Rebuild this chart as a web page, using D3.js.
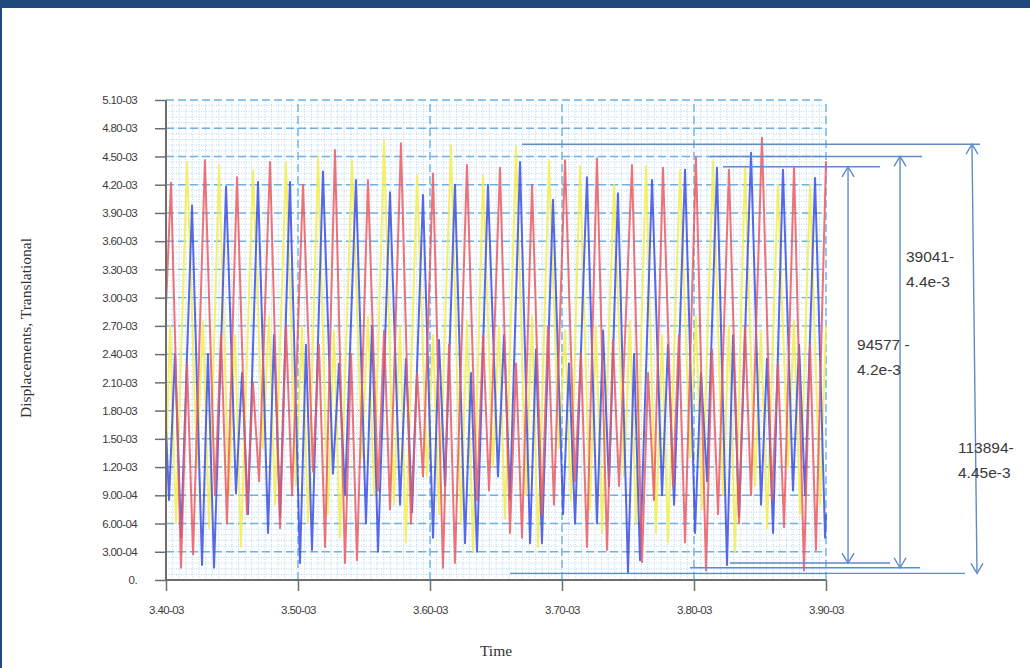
<!DOCTYPE html>
<html>
<head>
    <title>Displacements, Translational</title>
    <script src="https://cdnjs.cloudflare.com/ajax/libs/d3/7.8.5/d3.min.js"></script>
    <style>
        body { margin: 0; background: #ffffff; }
        svg { display: block; }
        .tick text { font-family: "Liberation Sans", Arial, sans-serif; font-size: 11.5px; fill: #3c3c3c; letter-spacing: -0.6px; }
        .axis-title { font-family: "Liberation Serif", "Times New Roman", serif; font-size: 15.5px; fill: #333; }
        .note { font-family: "Liberation Sans", Arial, sans-serif; font-size: 15.5px; fill: #3a3a3a; }
    </style>
</head>
<body>
    <svg width="1030" height="668"></svg>

    <script>
        // time in units of 1e-3 s, displacement in units of 1e-3
        const xTicks = [3.4, 3.5, 3.6, 3.7, 3.8, 3.9];
        const xTickLabels = ["3.40-03", "3.50-03", "3.60-03", "3.70-03", "3.80-03", "3.90-03"];
        const yTicks = [0, 0.3, 0.6, 0.9, 1.2, 1.5, 1.8, 2.1, 2.4, 2.7, 3.0, 3.3, 3.6, 3.9, 4.2, 4.5, 4.8, 5.1];
        const yTickLabels = ["0.", "3.00-04", "6.00-04", "9.00-04", "1.20-03", "1.50-03", "1.80-03", "2.10-03",
            "2.40-03", "2.70-03", "3.00-03", "3.30-03", "3.60-03", "3.90-03", "4.20-03", "4.50-03", "4.80-03", "5.10-03"];

        const yellowT = [3.4000, 3.4030, 3.4076,
            3.4159, 3.4235, 3.4280, 3.4326, 3.4402, 3.4477, 3.4523, 3.4568,
            3.4659, 3.4735, 3.4780, 3.4826, 3.4909, 3.4985, 3.5030, 3.5076,
            3.5152, 3.5227, 3.5273, 3.5318, 3.5409, 3.5485, 3.5530, 3.5576,
            3.5652, 3.5727, 3.5773, 3.5818, 3.5902, 3.5977, 3.6023, 3.6068,
            3.6159, 3.6235, 3.6280, 3.6326, 3.6402, 3.6477, 3.6523, 3.6568,
            3.6652, 3.6727, 3.6773, 3.6818, 3.6902, 3.6977, 3.7023, 3.7068,
            3.7136, 3.7212, 3.7258, 3.7303, 3.7394, 3.7470, 3.7515, 3.7561,
            3.7636, 3.7712, 3.7758, 3.7803, 3.7894, 3.7970, 3.8015, 3.8061,
            3.8144, 3.8220, 3.8265, 3.8311, 3.8386, 3.8462, 3.8508, 3.8553,
            3.8636, 3.8712, 3.8758, 3.8803, 3.8879, 3.8955, 3.9000];
        const yellowV = [1.20, 2.70, 0.60,
            4.44, 1.20, 2.75, 0.55, 4.41, 0.90, 2.60, 0.35,
            4.35, 1.40, 2.80, 0.80, 4.44, 1.00, 2.70, 0.60,
            4.50, 0.70, 2.65, 0.45, 4.46, 1.30, 2.80, 0.90,
            4.67, 0.80, 2.70, 0.40, 4.30, 1.10, 2.60, 0.70,
            4.62, 0.60, 2.75, 0.30, 4.30, 1.20, 2.70, 0.65,
            4.60, 0.90, 2.80, 0.35, 4.45, 1.40, 2.65, 0.85,
            4.40, 0.75, 2.70, 0.50, 4.20, 1.10, 2.75, 0.60,
            4.40, 0.50, 2.60, 0.40, 4.35, 1.30, 2.80, 0.75,
            4.45, 0.90, 2.70, 0.30, 4.40, 1.00, 2.65, 0.55,
            4.20, 1.20, 2.75, 0.70, 4.20, 0.80, 2.70];

        const blueT = [3.4000, 3.4023, 3.4068, 3.4114,
            3.4197, 3.4273, 3.4318, 3.4364, 3.4455, 3.4530, 3.4576, 3.4621,
            3.4697, 3.4773, 3.4818, 3.4864, 3.4939, 3.5015, 3.5061, 3.5106,
            3.5189, 3.5265, 3.5311, 3.5356, 3.5439, 3.5515, 3.5561, 3.5606,
            3.5697, 3.5773, 3.5818, 3.5864, 3.5947, 3.6023, 3.6068, 3.6114,
            3.6189, 3.6265, 3.6311, 3.6356, 3.6439, 3.6515, 3.6561, 3.6606,
            3.6682, 3.6758, 3.6803, 3.6848, 3.6932, 3.7008, 3.7053, 3.7099,
            3.7189, 3.7265, 3.7311, 3.7356, 3.7424, 3.7500, 3.7546, 3.7591,
            3.7682, 3.7758, 3.7803, 3.7849, 3.7932, 3.8008, 3.8053, 3.8099,
            3.8174, 3.8250, 3.8296, 3.8341, 3.8432, 3.8508, 3.8553, 3.8599,
            3.8674, 3.8750, 3.8796, 3.8841, 3.8917, 3.8993, 3.9000];
        const blueV = [1.60, 0.85, 2.40, 0.45,
            3.98, 0.16, 2.40, 0.13, 4.18, 0.92, 2.20, 0.70,
            4.23, 0.50, 2.60, 0.67, 4.23, 0.18, 2.50, 0.32,
            4.34, 1.13, 2.30, 0.90, 4.25, 0.60, 2.70, 0.30,
            4.12, 0.80, 2.35, 0.72, 4.09, 0.45, 2.55, 1.00,
            4.20, 0.39, 2.20, 0.30, 4.20, 1.10, 2.60, 0.85,
            4.44, 0.39, 2.45, 0.39, 4.04, 0.70, 2.30, 0.60,
            4.28, 0.60, 2.65, 1.00, 4.11, 0.08, 2.40, 0.21,
            4.25, 0.90, 2.50, 0.80, 4.36, 0.50, 2.20, 1.05,
            4.38, 0.16, 2.60, 0.67, 4.54, 0.80, 2.35, 0.50,
            4.36, 0.95, 2.50, 0.90, 4.27, 0.45, 0.70];

        const redT = [3.4000,
            3.4038, 3.4114, 3.4159, 3.4205, 3.4295, 3.4371, 3.4417, 3.4462,
            3.4538, 3.4614, 3.4659, 3.4705, 3.4788, 3.4864, 3.4909, 3.4955,
            3.5038, 3.5114, 3.5159, 3.5205, 3.5280, 3.5356, 3.5402, 3.5447,
            3.5530, 3.5606, 3.5652, 3.5697, 3.5780, 3.5856, 3.5902, 3.5947,
            3.6023, 3.6098, 3.6144, 3.6189, 3.6280, 3.6356, 3.6402, 3.6447,
            3.6530, 3.6606, 3.6652, 3.6697, 3.6773, 3.6848, 3.6894, 3.6939,
            3.7023, 3.7098, 3.7144, 3.7189, 3.7265, 3.7341, 3.7386, 3.7432,
            3.7530, 3.7606, 3.7652, 3.7697, 3.7765, 3.7841, 3.7886, 3.7932,
            3.8015, 3.8091, 3.8136, 3.8182, 3.8265, 3.8341, 3.8386, 3.8432,
            3.8515, 3.8591, 3.8636, 3.8682, 3.8758, 3.8833, 3.8879, 3.8924,
            3.9000];
        const redV = [2.90,
            4.22, 0.13, 2.30, 0.27, 4.46, 0.90, 2.60, 0.60,
            4.28, 0.70, 2.10, 1.05, 4.44, 0.55, 2.70, 0.90,
            4.20, 1.15, 2.50, 0.35, 4.57, 0.18, 2.40, 0.21,
            4.25, 0.95, 2.65, 0.75, 4.64, 0.60, 2.20, 1.10,
            4.32, 0.13, 2.50, 0.18, 4.41, 0.85, 2.60, 0.95,
            4.38, 0.50, 2.30, 0.45, 4.20, 0.70, 2.70, 0.80,
            4.46, 1.05, 2.40, 0.35, 4.48, 0.32, 2.55, 1.00,
            4.41, 0.19, 2.20, 0.85, 4.38, 1.00, 2.60, 0.40,
            4.49, 0.10, 2.45, 0.70, 4.36, 0.60, 2.70, 0.90,
            4.70, 0.85, 2.30, 0.56, 4.39, 0.10, 2.50, 0.32,
            4.45];

        // range annotations on the right
        const noteLines = [ // [level, from t, to t]
            [4.63, 3.6697, 4.0167], [4.50, 3.8121, 3.9727], [4.39, 3.8220, 3.9409],
            [0.18, 3.8273, 3.9485], [0.13, 3.7970, 3.9712], [0.07, 3.6606, 4.0053]];
        const noteArrows = [ // [t top, top level, t bottom, bottom level]
            [3.9167, 4.39, 3.9167, 0.18], [3.9561, 4.50, 3.9561, 0.13], [4.0106, 4.63, 4.0144, 0.07]];
        const noteTexts = [ // [t, level, first line, second line]
            [3.9606, 3.38, "39041-", "4.4e-3"],
            [3.9235, 2.44, "94577 -", "4.2e-3"],
            [4.0000, 1.35, "113894-", "4.45e-3"]];

        const svg = d3.select("svg");
        const x = d3.scaleLinear().domain([3.4, 3.9]).range([166, 826]);
        const y = d3.scaleLinear().domain([0, 5.1]).range([580, 100]);

        // frame
        svg.append("rect").attr("x", 0).attr("y", 0).attr("width", 1030).attr("height", 8).attr("fill", "#1f497d");
        svg.append("rect").attr("x", 0).attr("y", 0).attr("width", 2).attr("height", 668).attr("fill", "#1f497d");

        // fine dotted grid
        const minor = svg.append("g").attr("stroke", "#b3d8f3").attr("stroke-width", 1)
            .attr("stroke-dasharray", "1,1.5");
        d3.range(0.06, 5.1, 0.06).forEach(v => {
            minor.append("line").attr("x1", x(3.4)).attr("x2", x(3.9)).attr("y1", y(v)).attr("y2", y(v));
        });
        d3.range(3.405, 3.9, 0.005).forEach(t => {
            minor.append("line").attr("x1", x(t)).attr("x2", x(t)).attr("y1", y(0)).attr("y2", y(5.1));
        });

        // dashed major grid
        const major = svg.append("g").attr("stroke", "#6fb1e4").attr("stroke-width", 1.4)
            .attr("stroke-dasharray", "8,4");
        yTicks.slice(1).forEach(v => {
            major.append("line").attr("x1", x(3.4)).attr("x2", x(3.9)).attr("y1", y(v)).attr("y2", y(v));
        });
        xTicks.slice(1).forEach(t => {
            major.append("line").attr("x1", x(t)).attr("x2", x(t)).attr("y1", y(0)).attr("y2", y(5.1));
        });

        // series
        const series = [
            { t: yellowT, v: yellowV, color: "#f2ee4e" },
            { t: blueT, v: blueV, color: "#3b4fe4" },
            { t: redT, v: redV, color: "#ea5a62" }
        ];
        const line = d3.line().x(d => x(d[0])).y(d => y(d[1]));
        series.forEach(s => {
            svg.append("path")
                .attr("d", line(d3.zip(s.t, s.v)))
                .attr("fill", "none")
                .attr("stroke", s.color)
                .attr("stroke-width", 2)
                .attr("stroke-opacity", 0.85)
                .attr("stroke-linejoin", "round");
        });

        // axes
        const yAxis = svg.append("g").attr("transform", "translate(166,0)")
            .call(d3.axisLeft(y).tickValues(yTicks).tickFormat((d, i) => yTickLabels[i]).tickSize(11).tickPadding(18));
        const xAxis = svg.append("g").attr("transform", "translate(0,580)")
            .call(d3.axisBottom(x).tickValues(xTicks).tickFormat((d, i) => xTickLabels[i]).tickSize(11).tickPadding(15));
        [yAxis, xAxis].forEach(a => {
            a.select(".domain").attr("stroke", "#6e6e6e").attr("stroke-width", 2);
            a.selectAll(".tick line").attr("stroke", "#6e6e6e").attr("stroke-width", 1.5);
        });
        xAxis.select(".domain").attr("d", "M166,0H826");
        yAxis.select(".domain").attr("d", "M0,580V100");

        svg.append("text").attr("class", "axis-title")
            .attr("transform", "translate(31,328) rotate(-90)")
            .attr("text-anchor", "middle")
            .text("Displacements, Translational");
        svg.append("text").attr("class", "axis-title")
            .attr("x", 496).attr("y", 656)
            .attr("text-anchor", "middle")
            .text("Time");

        // annotations
        const noteColor = "#5f8bc8";
        noteLines.forEach(d => {
            svg.append("line").attr("x1", x(d[1])).attr("x2", x(d[2])).attr("y1", y(d[0])).attr("y2", y(d[0]))
                .attr("stroke", noteColor).attr("stroke-width", 1.4);
        });
        noteArrows.forEach(d => {
            const x1 = x(d[0]), y1 = y(d[1]), x2 = x(d[2]), y2 = y(d[3]);
            svg.append("line").attr("x1", x1).attr("y1", y1).attr("x2", x2).attr("y2", y2)
                .attr("stroke", noteColor).attr("stroke-width", 1.4);
            svg.append("path").attr("d", `M${x1 - 6},${y1 + 10}L${x1},${y1}L${x1 + 6},${y1 + 10}`)
                .attr("fill", "none").attr("stroke", noteColor).attr("stroke-width", 1.4);
            svg.append("path").attr("d", `M${x2 - 6},${y2 - 10}L${x2},${y2}L${x2 + 6},${y2 - 10}`)
                .attr("fill", "none").attr("stroke", noteColor).attr("stroke-width", 1.4);
        });
        noteTexts.forEach(d => {
            const t = svg.append("text").attr("class", "note").attr("x", x(d[0])).attr("y", y(d[1]));
            t.append("tspan").attr("x", x(d[0])).text(d[2]);
            t.append("tspan").attr("x", x(d[0])).attr("dy", 25).text(d[3]);
        });
    </script>
</body>
</html>
